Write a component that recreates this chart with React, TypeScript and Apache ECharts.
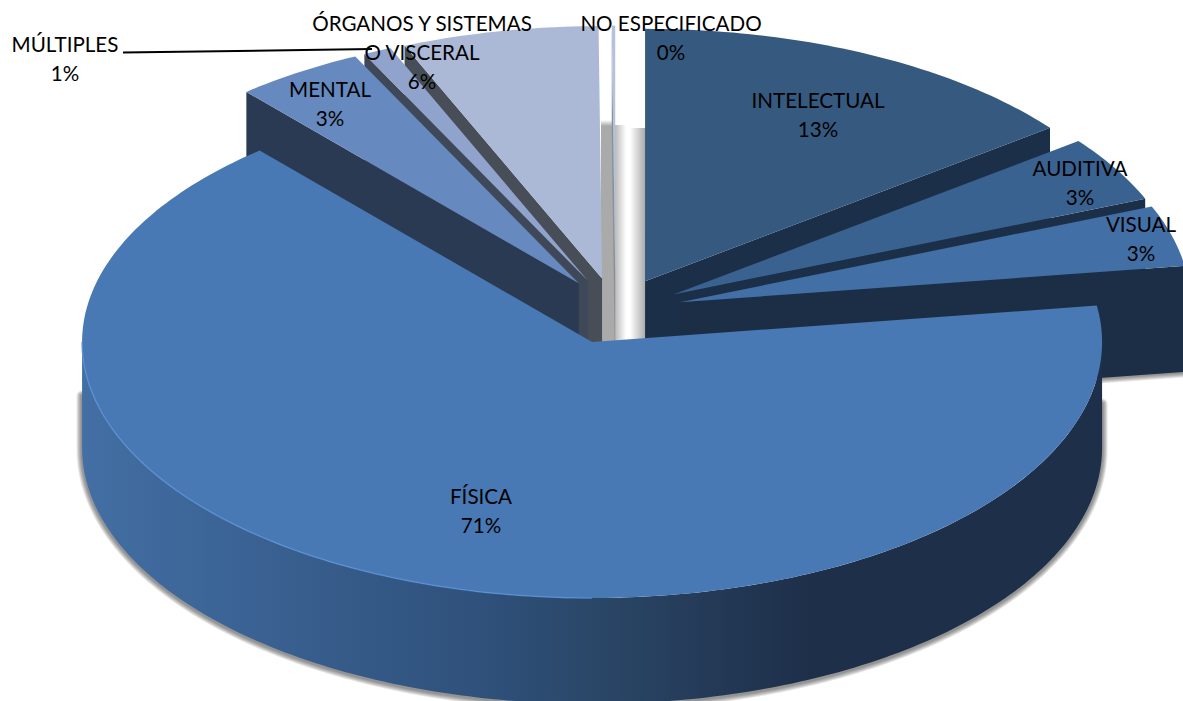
import React, { useEffect, useRef } from "react";
import * as echarts from "echarts";

// Data, in pie order (clockwise from 12 o'clock)
const categories = [
  "INTELECTUAL",
  "AUDITIVA",
  "VISUAL",
  "FÍSICA",
  "MENTAL",
  "MÚLTIPLES",
  "ÓRGANOS Y SISTEMAS\nO VISCERAL",
  "NO ESPECIFICADO",
];
// Percentages printed on the labels
const percentLabels = [13, 3, 3, 71, 3, 1, 6, 0];
// Share of the turn each slice covers (the 3D view distorts it)
const drawnShares = [14.6, 4.2, 3.9, 66.0, 4.08, 0.89, 6.22, 0.11];

// Look of the slices
const topColors = ["#35597F", "#3A6291", "#426FA5", "#4979B4", "#668ABF", "#8FA3CC", "#ABB9D6", "#B4C2DE"];
const wallColors = ["#1C2F48", "#1C2F48", "#1C2E45", "#1E3050", "#2A3A52", "#3F4859", "#474E58", "#8A8F98"];
const paintOrder = [7, 6, 5, 4, 0, 1, 2, 3];
const labelCenters: [number, number][] = [
  [818, 114.5],
  [1080, 182.5],
  [1141, 238.5],
  [481, 510.5],
  [330, 103.5],
  [65, 58.5],
  [422, 51.5],
  [671, 37.5],
];
const shadowWidths = [11, 9, 7, 5, 3];

const PIE = { cx: 615.5, cy: 311, rx: 510, ryBack: 252.5, ryFront: 256, depth: 106, explode: 0.131 };

const cumulative: number[] = [];
drawnShares.reduce((sum, v, i) => {
  cumulative[i] = sum;
  return sum + v;
}, 0);
const total = drawnShares.reduce((a, b) => a + b, 0);

function sliceGeometry(i: number) {
  const a = (cumulative[i] / total) * 360;
  const b = ((cumulative[i] + drawnShares[i]) / total) * 360;
  const m = (((a + b) / 2) * Math.PI) / 180;
  const ox = PIE.cx + PIE.explode * PIE.rx * Math.sin(m);
  const oy = PIE.cy - PIE.explode * PIE.ryBack * Math.cos(m);
  const at = (deg: number, dy = 0): number[] => {
    const t = (deg * Math.PI) / 180;
    const c = Math.cos(t);
    return [ox + PIE.rx * Math.sin(t), oy - (c < 0 ? PIE.ryFront : PIE.ryBack) * c + dy];
  };
  return { a, b, ox, oy, at };
}

function arc(from: number, to: number, at: (d: number, dy?: number) => number[], dy = 0) {
  const pts: number[][] = [];
  const n = Math.max(2, Math.ceil(Math.abs(to - from)));
  for (let k = 0; k <= n; k++) pts.push(at(from + ((to - from) * k) / n, dy));
  return pts;
}

function softShadow(points: number[][]) {
  return shadowWidths.map((w) => ({
    type: "polyline",
    shape: { points },
    style: { stroke: "rgba(0,0,0,0.1)", lineWidth: w, fill: "none", lineCap: "round", lineJoin: "round" },
  }));
}

function renderSlice(_params: any, api: any) {
  const i = api.value(0);
  const { a, b, ox, oy, at } = sliceGeometry(i);
  const d = PIE.depth;
  const children: any[] = [];
  const wall = wallColors[i];
  // radial faces that look at the viewer
  const radial = (deg: number) => {
    const p = at(deg);
    if (deg < 180 && deg > 75) {
      children.push(...softShadow([[p[0], p[1] + d], [ox, oy + d]]));
    }
    children.push({
      type: "polygon",
      shape: { points: [[ox, oy], p, [p[0], p[1] + d], [ox, oy + d]] },
      style: { fill: wall },
    });
  };
  if (a >= 180) radial(a);
  if (b <= 180) radial(b);
  // outer wall, front half only
  const f0 = Math.max(a, 90);
  const f1 = Math.min(b, 270);
  if (f1 > f0) {
    // soft ground shadow cast by the lower part of the wall
    children.push(...softShadow([at(f0, d - 44), ...arc(f0, f1, at, d + 1), at(f1, d - 52)]));
    const upper = arc(f0, f1, at);
    const lower = arc(f1, f0, at, d);
    children.push({
      type: "polygon",
      shape: { points: [...upper, ...lower] },
      style: {
        fill: new echarts.graphic.LinearGradient(
          PIE.cx - PIE.rx - 23,
          0,
          PIE.cx + PIE.rx - 23,
          0,
          [
            { offset: 0, color: "#436FA4" },
            { offset: 0.11, color: "#3D6699" },
            { offset: 0.41, color: "#2E4F78" },
            { offset: 0.51, color: "#2A4666" },
            { offset: 0.71, color: "#1E2F4A" },
            { offset: 1, color: "#1E2F4A" },
          ],
          true
        ),
      },
    });
  }
  // top face
  children.push({
    type: "polygon",
    shape: { points: [[ox, oy], ...arc(a, b, at)] },
    style: { fill: topColors[i] },
  });
  // light rim on the front edge
  if (f1 > f0) {
    children.push({
      type: "polyline",
      shape: { points: arc(Math.max(f0, 180), f1, at) },
      style: { stroke: "#5A90D4", lineWidth: 1.5, fill: "none", opacity: 0.8 },
    });
  }
  return { type: "group", children };
}

function renderLabel(_params: any, api: any) {
  const i = api.value(0);
  const [x, y] = labelCenters[i];
  return {
    type: "text",
    x,
    y,
    style: {
      text: `${categories[i]}\n${percentLabels[i]}%`,
      fill: "#000000",
      font: '20.6px Lato, "Open Sans", sans-serif',
      lineHeight: 29,
      align: "center",
      verticalAlign: "middle",
    },
  };
}

export default function App() {
  const ref = useRef<HTMLDivElement>(null);
  useEffect(() => {
    if (!ref.current) return;
    const chart = echarts.init(ref.current, null, { renderer: "svg" });
    chart.setOption({
      animation: false,
      backgroundColor: "#ffffff",
      graphic: [
        {
          type: "rect",
          z: 0,
          shape: { x: 601, y: 120, width: 14, height: 6 },
          style: {
            fill: new echarts.graphic.LinearGradient(0, 0, 0, 1, [
              { offset: 0, color: "#FFFFFF" },
              { offset: 1, color: "#AAAAAA" },
            ]),
          },
        },
        {
          type: "rect",
          z: 0,
          shape: { x: 601, y: 126, width: 14, height: 216 },
          style: { fill: "#AAAAAA" },
        },
        {
          type: "rect",
          z: 0,
          shape: { x: 615, y: 125, width: 11, height: 217 },
          style: {
            fill: new echarts.graphic.LinearGradient(0, 0, 1, 0, [
              { offset: 0, color: "#B8B8B8" },
              { offset: 1, color: "#FFFFFF" },
            ]),
          },
        },
        {
          type: "rect",
          z: 0,
          shape: { x: 630, y: 128, width: 16, height: 214 },
          style: {
            fill: new echarts.graphic.LinearGradient(0, 0, 1, 0, [
              { offset: 0, color: "#FFFFFF" },
              { offset: 1, color: "#A6A6A6" },
            ]),
          },
        },
      ],
      series: [
        {
          type: "custom",
          coordinateSystem: "none",
          z: 2,
          silent: true,
          data: paintOrder.map((i) => ({ name: categories[i], value: [i, drawnShares[i]] })),
          renderItem: renderSlice,
        },
        {
          type: "custom",
          coordinateSystem: "none",
          z: 5,
          silent: true,
          data: [[0]],
          renderItem: () => ({
            type: "polyline",
            shape: { points: [[123, 52.5], [372, 49]] },
            style: { stroke: "#000000", lineWidth: 2, fill: "none" },
          }),
        },
        {
          type: "custom",
          coordinateSystem: "none",
          z: 6,
          silent: true,
          data: categories.map((_, i) => [i]),
          renderItem: renderLabel,
        },
      ],
    });
    return () => chart.dispose();
  }, []);
  return (
    <div
      ref={ref}
      style={{ position: "absolute", left: 0, top: 0, width: 1183, height: 701, overflow: "hidden" }}
    />
  );
}
